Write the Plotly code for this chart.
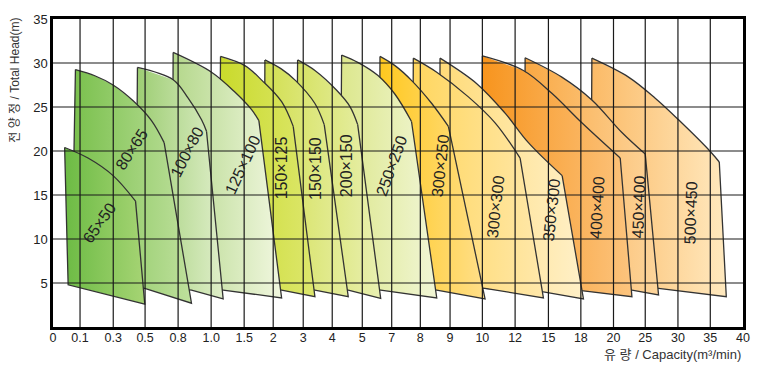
import numpy as np
import plotly.graph_objects as go

# ---------------- data ----------------
tick_values = [0, 0.1, 0.3, 0.5, 0.8, 1.0, 1.5, 2, 3, 4, 5, 7, 8, 9, 10, 12, 15, 18, 20, 25, 30, 35, 40]
tick_labels = ["0", "0.1", "0.3", "0.5", "0.8", "1.0", "1.5", "2", "3", "4", "5", "7", "8", "9",
               "10", "12", "15", "18", "20", "25", "30", "35", "40"]
# position of each capacity tick along the (non-uniform) horizontal scale
tick_pos = [0, 0.862, 1.921, 2.936, 3.989, 5.042, 6.095, 7.021, 7.978, 8.903, 9.861, 10.799,
            11.712, 12.660, 13.690, 14.734, 15.796, 16.830, 17.871, 18.883, 19.926, 20.957, 22.0]
head_ticks = [5, 10, 15, 20, 25, 30, 35]

models = ["65×50", "80×65", "100×80", "125×100", "150×125", "150×150", "200×150",
          "250×250", "300×250", "300×300", "350×300", "400×400", "450×400", "500×450"]

# capacity (m3/min) / head (m) outline of each operating range:
# top curve (max head -> knee), then right edge, bottom edge and back to the left edge
q_65x50 = [0.043, 0.148, 0.299, 0.44, 0.498, 0.056]
h_65x50 = [20.4, 19.2, 17.2, 14.3, 2.6, 4.8]
q_80x65 = [0.083, 0.189, 0.299, 0.425, 0.558, 0.673, 0.881, 0.498, 0.069]
h_80x65 = [29.25, 28.55, 27.5, 25.7, 23.45, 20.95, 2.7, 4.4, 5.15]
q_100x80 = [0.452, 0.755, 0.861, 0.942, 0.972, 1.182, 0.881, 0.442]
h_100x80 = [29.5, 28.1, 26.0, 23.55, 22.25, 3.2, 4.2, 4.8]
q_125x100 = [0.755, 1.006, 1.359, 1.628, 1.753, 2.28, 1.182, 0.743]
h_125x100 = [31.2, 28.95, 26.7, 24.7, 23.45, 3.3, 4.2, 4.8]
q_150x125 = [1.142, 1.512, 1.81, 2.28, 2.667, 3.403, 2.28, 1.117]
h_150x125 = [30.75, 29.7, 28.0, 25.6, 22.8, 3.45, 4.2, 4.8]
q_150x150 = [1.857, 2.28, 2.747, 3.403, 3.724, 4.533, 3.403, 1.84]
h_150x150 = [30.35, 29.3, 28.0, 25.4, 23.0, 3.45, 4.2, 4.8]
q_200x150 = [2.813, 3.403, 4.147, 4.59, 4.847, 6.252, 4.533, 2.757]
h_200x150 = [30.35, 29.15, 26.9, 25.05, 23.0, 3.25, 4.2, 4.8]
q_250x250 = [4.313, 4.867, 6.048, 7.115, 7.692, 8.552, 6.252, 4.257]
h_250x250 = [30.9, 30.05, 28.6, 26.45, 23.35, 3.3, 4.2, 4.8]
q_300x250 = [6.204, 7.115, 7.699, 8.384, 8.943, 10.165, 8.552, 6.136]
h_300x250 = [30.75, 29.7, 28.0, 25.4, 22.8, 3.2, 4.2, 4.8]
q_300x300 = [7.755, 8.552, 9.567, 10.777, 12.45, 14.55, 10.165, 7.71]
h_300x300 = [30.55, 28.95, 26.15, 23.2, 19.2, 3.3, 4.4, 5.0]
q_350x300 = [8.663, 9.827, 11.388, 13.198, 16.269, 18.16, 14.55, 8.63]
h_350x300 = [30.55, 27.65, 24.3, 20.95, 17.2, 3.2, 4.0, 4.7]
q_400x400 = [10.0, 12.748, 15.315, 18.061, 21.057, 22.902, 18.16, 9.96]
h_400x400 = [30.8, 29.15, 26.55, 23.2, 19.2, 3.45, 4.1, 4.7]
q_450x400 = [12.901, 16.241, 18.675, 21.325, 25.0, 27.034, 22.902, 12.811]
h_450x400 = [30.6, 28.4, 25.8, 22.1, 19.65, 3.65, 4.2, 4.8]
q_500x450 = [18.675, 22.366, 26.529, 30.093, 35.0, 36.376, 37.446, 27.034, 18.601]
h_500x450 = [30.55, 28.4, 26.0, 23.55, 19.95, 18.75, 3.45, 4.4, 4.8]
# number of leading points that form the curved top edge
curve_pts = [4, 6, 5, 5, 5, 5, 5, 5, 5, 5, 5, 5, 5, 6]

label_q = [0.219, 0.414, 0.856, 1.48, 2.28, 3.403, 4.48, 7.0, 8.663, 10.777, 15.31, 18.98, 23.9, 32.06]
label_h = [11.84, 20.2, 19.93, 18.48, 18.1, 18.06, 18.35, 18.35, 18.28, 13.63, 13.33, 13.63, 13.63, 12.96]

# ---------------- styles ----------------
series_q = [q_65x50, q_80x65, q_100x80, q_125x100, q_150x125, q_150x150, q_200x150,
            q_250x250, q_300x250, q_300x300, q_350x300, q_400x400, q_450x400, q_500x450]
series_h = [h_65x50, h_80x65, h_100x80, h_125x100, h_150x125, h_150x150, h_200x150,
            h_250x250, h_300x250, h_300x300, h_350x300, h_400x400, h_450x400, h_500x450]
grad = [("#6cbb44", "#a6d474"), ("#79c04c", "#bfe09d"), ("#9ccd72", "#dfeec9"),
        ("#b3d78a", "#f1f7df"), ("#c9da2a", "#dde76e"), ("#d2df50", "#e5ed9e"),
        ("#d6e262", "#e9f0b2"), ("#dce78c", "#f1f6d6"), ("#ffc81e", "#ffdf8a"),
        ("#ffd65e", "#ffe8ab"), ("#ffdb78", "#fff0c8"), ("#f7941d", "#fcc47e"),
        ("#f9a843", "#fdd59c"), ("#fbba66", "#ffe9bf")]
label_angle = [-55, -57, -63, -65, -90, -90, -90, -70, -84, -84, -84, -87, -88, -88]

FONT = "Liberation Sans, Arial, Noto Sans CJK KR, sans-serif"
EDGE = dict(color="#333333", width=1.3)


def to_pos(q):
    return np.interp(q, tick_values, tick_pos)


fig = go.Figure()
for i in reversed(range(len(models))):
    xs = list(to_pos(series_q[i]))
    ys = list(series_h[i])
    k = curve_pts[i]
    # filled range
    fig.add_trace(go.Scatter(
        x=xs + [xs[0]], y=ys + [ys[0]], mode="lines", fill="toself",
        line=dict(width=0, color="rgba(0,0,0,0)"),
        fillgradient=dict(type="horizontal",
                          colorscale=[[0, grad[i][0]], [1, grad[i][1]]]),
        hoverinfo="skip", showlegend=False, name=models[i]))
    # smooth top curve
    fig.add_trace(go.Scatter(
        x=xs[:k], y=ys[:k], mode="lines", line=dict(shape="spline", smoothing=1.0, **EDGE),
        hoverinfo="skip", showlegend=False))
    # straight edges
    fig.add_trace(go.Scatter(
        x=xs[k - 1:] + [xs[0]], y=ys[k - 1:] + [ys[0]], mode="lines", line=EDGE,
        hoverinfo="skip", showlegend=False))

# grid drawn above the filled ranges
for p in tick_pos[1:-1]:
    fig.add_shape(type="line", xref="x", yref="y", x0=p, x1=p, y0=0, y1=35,
                  line=dict(color="#1a1a1a", width=1.2), layer="above")
for h in head_ticks[:-1]:
    fig.add_shape(type="line", xref="x", yref="y", x0=0, x1=tick_pos[-1], y0=h, y1=h,
                  line=dict(color="#1a1a1a", width=1.2), layer="above")

for i, m in enumerate(models):
    fig.add_annotation(x=float(to_pos(label_q[i])), y=label_h[i], text=m, showarrow=False,
                       textangle=label_angle[i], font=dict(size=16, color="#222222", family=FONT),
                       xanchor="center", yanchor="middle")

fig.add_annotation(xref="paper", yref="paper", x=-0.055, y=0.80, text="전 양 정 / Total Head(m)",
                   textangle=-90, showarrow=False, xanchor="center", yanchor="middle",
                   font=dict(size=12, color="#333333", family=FONT))
fig.add_annotation(xref="paper", yref="paper", x=1.0, y=-0.089, text="유 량 / Capacity(m³/min)",
                   showarrow=False, xanchor="right", yanchor="middle",
                   font=dict(size=13, color="#333333", family=FONT))

# the page body has an 8px margin, so the figure is sized to fit the 761x369 window
fig.update_layout(
    width=753, height=361,
    margin=dict(l=45, r=18, t=4, b=42),
    paper_bgcolor="white", plot_bgcolor="white",
    font=dict(family=FONT, color="#222222"),
    xaxis=dict(range=[0, tick_pos[-1]], tickvals=tick_pos, ticktext=tick_labels,
               showgrid=False, zeroline=False, showline=True, mirror=True,
               linecolor="black", linewidth=2.5, ticks="", ticklabelstandoff=-3,
               ticklabeloverflow="allow", tickfont=dict(size=12.5), layer="above traces"),
    yaxis=dict(range=[0, 35], tickvals=head_ticks, showgrid=False, zeroline=False,
               showline=True, mirror=True, linecolor="black", linewidth=2.5,
               ticks="", ticklabeloverflow="allow", tickfont=dict(size=13),
               layer="above traces"),
)

fig.write_html("out.html")
